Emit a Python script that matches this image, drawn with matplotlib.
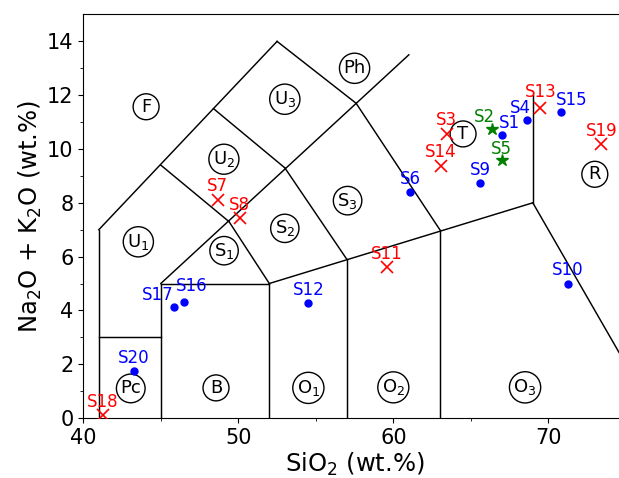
import matplotlib
matplotlib.use("Agg")
import matplotlib.pyplot as plt

# TAS field boundaries (SiO2, Na2O+K2O)
boundary_lines = [
    [(41, 0), (41, 7)], [(41, 7), (52.5, 14)], [(45, 0), (45, 5)], [(41, 3), (45, 3)],
    [(45, 5), (61, 13.5)], [(45, 5), (52, 5)], [(52, 5), (69, 8)], [(49.4, 7.3), (52, 5)],
    [(52, 5), (52, 0)], [(48.4, 11.5), (53, 9.3)], [(53, 9.3), (57, 5.9)], [(57, 5.9), (57, 0)],
    [(52.5, 14), (57.6, 11.7)], [(57.6, 11.7), (63, 7)], [(63, 7), (63, 0)], [(69, 12), (69, 8)],
    [(45, 9.4), (49.4, 7.3)], [(69, 8), (77, 0)],
]

field_names = ["F", "U$_3$", "Ph", "U$_2$", "U$_1$", "S$_1$", "S$_2$", "S$_3$", "T", "R",
               "Pc", "B", "O$_1$", "O$_2$", "O$_3$"]
field_x = [44.05, 53.0, 57.5, 49.07, 43.55, 49.08, 53.0, 57.05, 64.5, 73.0,
           43.06, 48.56, 54.52, 60.0, 68.5]
field_y = [11.57, 11.85, 13.0, 9.62, 6.55, 6.22, 7.05, 8.08, 10.56, 9.06,
           1.1, 1.12, 1.12, 1.14, 1.14]

# blue dots
blue_names = ["S1", "S4", "S6", "S9", "S10", "S12", "S15", "S16", "S17", "S20"]
blue_sio2 = [67.03, 68.6, 61.1, 65.6, 71.25, 54.52, 70.8, 46.5, 45.83, 43.25]
blue_alk = [10.51, 11.07, 8.39, 8.75, 5.0, 4.29, 11.36, 4.32, 4.13, 1.75]

# red crosses
red_names = ["S3", "S7", "S8", "S11", "S13", "S14", "S18", "S19"]
red_sio2 = [63.45, 48.67, 50.1, 59.57, 69.48, 63.06, 41.25, 73.42]
red_alk = [10.56, 8.1, 7.45, 5.62, 11.52, 9.37, 0.11, 10.2]

# green stars
green_names = ["S2", "S5"]
green_sio2 = [66.35, 67.0]
green_alk = [10.73, 9.58]

# label offsets in points (dx, dy)
label_offsets = {"S1": (4.8, 5.0), "S2": (-5.5, 5.5), "S4": (-4.3, 5.5), "S15": (8, 5.0),
                 "S13": (0, 8), "S3": (0, 6.5), "S5": (0, 4.5), "S14": (0, 6.3),
                 "S17": (-11.5, 5.0), "S16": (5.5, 8.0), "S7": (0, 6.7)}

fig = plt.figure(figsize=(6.19, 4.78), dpi=100)
ax = fig.add_axes([0.1346, 0.1255, 0.8764, 0.8442])

for seg in boundary_lines:
    (x0, y0), (x1, y1) = seg
    ax.plot([x0, x1], [y0, y1], color="black", lw=1.05, zorder=1)

for name, x, y in zip(field_names, field_x, field_y):
    ax.text(x, y, name, ha="center", va="center", fontsize=13,
            bbox=dict(boxstyle="circle,pad=0.22", fc="none", ec="black", lw=1.0), zorder=2)

ax.plot(blue_sio2, blue_alk, "o", color="blue", ms=5, ls="none", zorder=3)
ax.plot(red_sio2, red_alk, "x", color="red", ms=8, mew=1.2, ls="none", zorder=3)
ax.plot(green_sio2, green_alk, "*", color="green", ms=9, ls="none", zorder=3)

def label(names, xs, ys, color):
    for n, x, y in zip(names, xs, ys):
        dx, dy = label_offsets.get(n, (0, 5.8))
        ax.annotate(n, (x, y), xytext=(dx, dy), textcoords="offset points",
                    ha="center", va="baseline", color=color, fontsize=12, zorder=4)

label(blue_names, blue_sio2, blue_alk, "blue")
label(red_names, red_sio2, red_alk, "red")
label(green_names, green_sio2, green_alk, "green")

ax.set_xlim(40, 75)
ax.set_ylim(0, 15)
ax.set_xticks([40, 50, 60, 70])
ax.set_xticks([45, 55, 65, 75], minor=True)
ax.set_yticks(range(0, 15, 2))
ax.set_yticks(range(1, 15, 2), minor=True)
ax.tick_params(labelsize=15)
ax.set_xlabel("SiO$_2$ (wt.%)", fontsize=17.5, labelpad=2)
ax.set_ylabel("Na$_2$O + K$_2$O (wt.%)", fontsize=17.5, labelpad=2)

fig.savefig("out.png", dpi=100)
